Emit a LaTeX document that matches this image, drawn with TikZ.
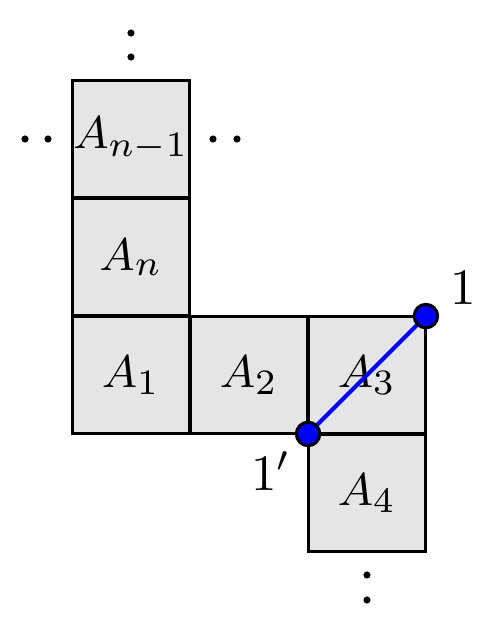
\documentclass[tikz,border=0pt]{standalone}
\begin{document}
\begin{tikzpicture}[x=0.196pt,y=-0.196pt,
  every node/.style={font=\fontsize{9.4pt}{11pt}\selectfont},
  cell/.style={draw=black,fill=black!10,line width=0.6pt,minimum size=23.1pt,inner sep=0pt,outer sep=0pt},
  dotmark/.style={circle,fill=black,inner sep=0pt,minimum size=1.4pt},
  vtx/.style={circle,draw=black,fill=blue,line width=0.6pt,inner sep=0pt,minimum size=4.6pt},
  lbl/.style={inner sep=0pt,font=\fontsize{10.2pt}{12pt}\selectfont}]
\useasboundingbox (0,0) rectangle (496,628);
\node[cell] (an1) at (131,139) {$A_{n-1}$};
\node[cell] (an) at (131,257) {$A_n$};
\node[cell] (a1) at (131,375) {$A_1$};
\node[cell] (a2) at (249,375) {$A_2$};
\node[cell] (a3) at (367,375) {$A_3$};
\node[cell] (a4) at (367,493) {$A_4$};
% dots
\node[dotmark] (t1) at (131,33) {};
\node[dotmark] (t2) at (131,57) {};
\node[dotmark] (l1) at (25,139) {};
\node[dotmark] (l2) at (48,139) {};
\node[dotmark] (r1) at (213,139) {};
\node[dotmark] (r2) at (237,139) {};
\node[dotmark] (b1) at (367,575) {};
\node[dotmark] (b2) at (367,600) {};
% blue segment
\coordinate (p1) at (a3.north east);
\coordinate (p2) at (a3.south west);
\draw[blue,line width=0.8pt] (p1) -- (p2);
\node[vtx] (v1) at (p1) {};
\node[vtx] (v2) at (p2) {};
\node[lbl] (l1t) at (463,288) {$1$};
\node[lbl] (l2t) at (271,471) {$1'$};
\end{tikzpicture}
\end{document}
